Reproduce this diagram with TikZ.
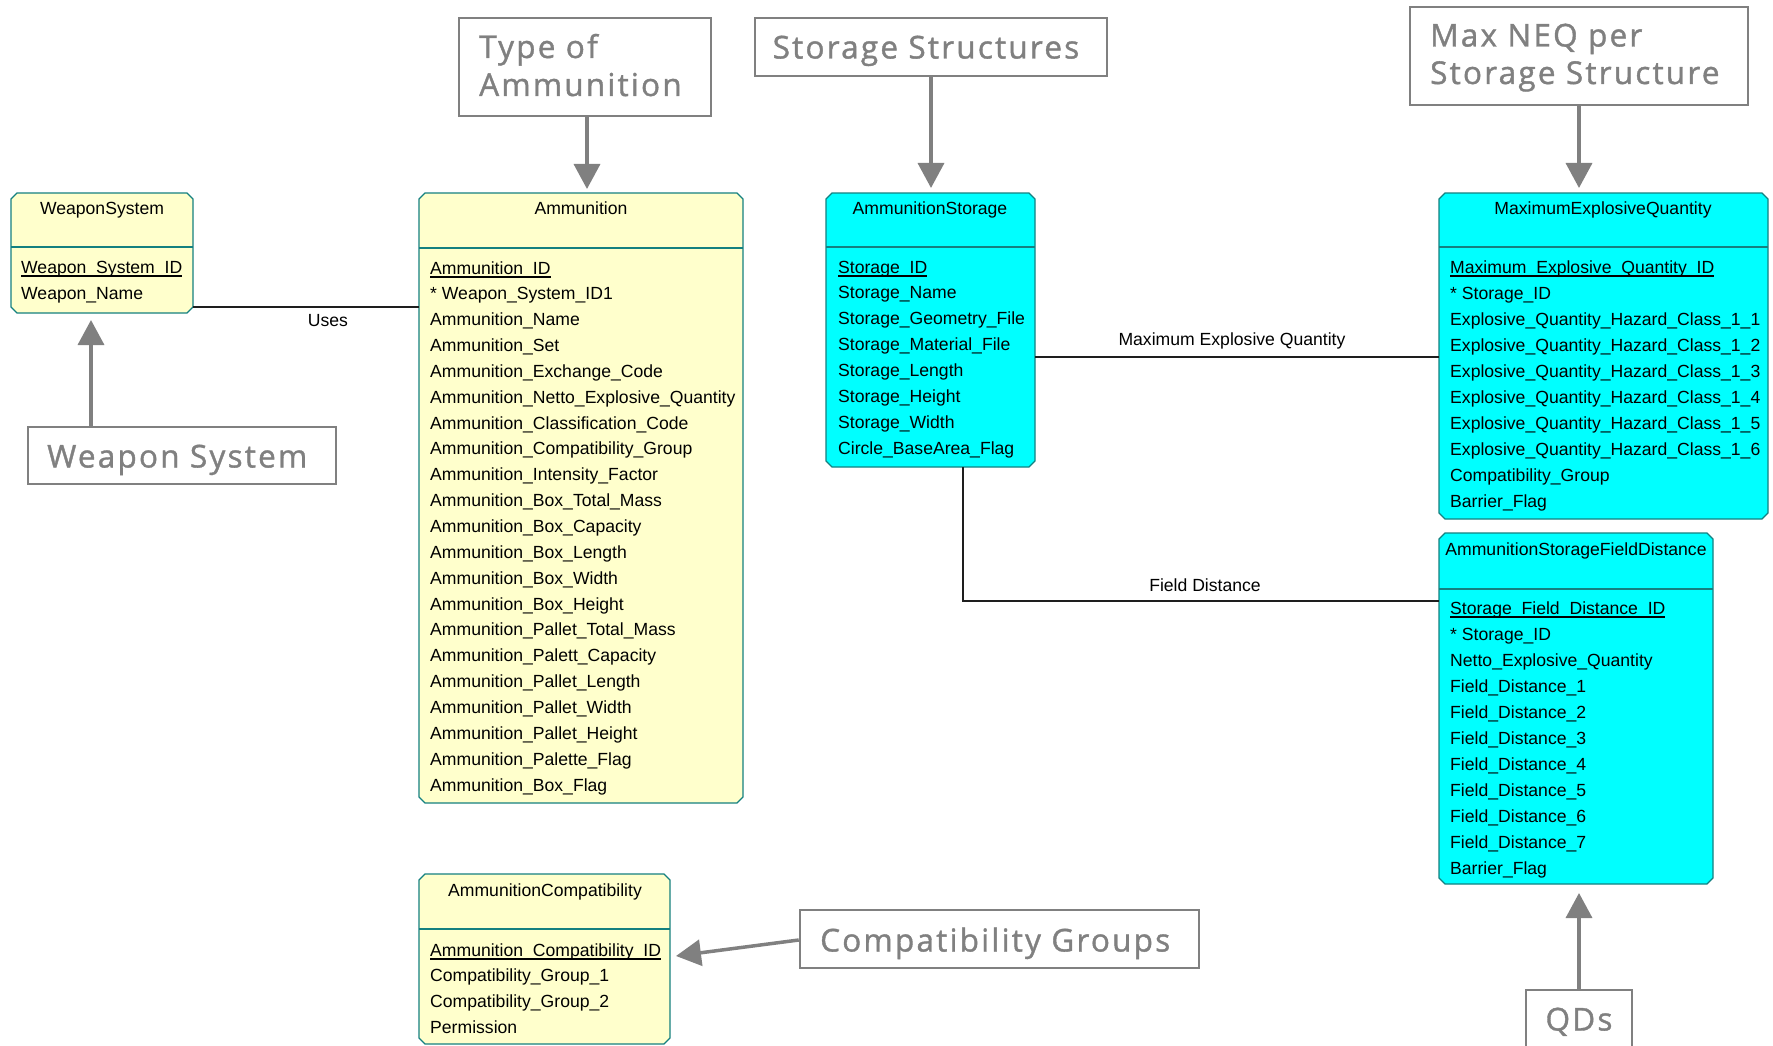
\documentclass[tikz,border=0pt]{standalone}
\usepackage{fontspec}
\setmainfont{Liberation Sans}
\newfontfamily\calloutfont[LetterSpace=7,FakeBold=1.2]{Open Sans}
\usetikzlibrary{arrows.meta}
\definecolor{entyellow}{RGB}{255,255,204}
\definecolor{entcyan}{RGB}{0,255,255}
\definecolor{entborder}{RGB}{20,128,128}
\definecolor{callgray}{RGB}{128,128,128}
\definecolor{linedark}{RGB}{30,30,30}
\newcommand\pkey[1]{\setbox0=\hbox{#1}\rlap{\rule[-0.21em]{\wd0}{0.07em}}\box0}
\newcommand\entbox[7]{%
  \node[entity, minimum width={#4-#2}, minimum height={#5-#3}] (#1) at ({(#2+#4)/2},{(#3+#5)/2}) {};
  \filldraw[entbody, fill=#7]
    ([xshift=6pt]#1.north west) -- ([xshift=-6pt]#1.north east) -- ([yshift=-6pt]#1.north east)
    -- ([yshift=6pt]#1.south east) -- ([xshift=-6pt]#1.south east) -- ([xshift=6pt]#1.south west)
    -- ([yshift=6pt]#1.south west) -- ([yshift=-6pt]#1.north west) -- cycle;
  \draw[entsep] (#1.west |- 0,#6) -- (#1.east |- 0,#6);}
\begin{document}
\begin{tikzpicture}[x=1pt,y=-1pt,
  entity/.style={rectangle, inner sep=0pt, outer sep=0pt},
  entbody/.style={draw=entborder, line width=1.3pt, line join=miter},
  entsep/.style={draw=entborder, line width=1.3pt},
  enttitle/.style={inner sep=0pt, anchor=base, font=\fontsize{17.6}{26}\selectfont},
  entitem/.style={inner sep=0pt, anchor=base west, font=\fontsize{17.6}{26}\selectfont},
  rel/.style={draw=linedark, line width=2pt},
  rellabel/.style={inner sep=0pt, anchor=base, font=\fontsize{17.6}{26}\selectfont},
  callbox/.style={rectangle, draw=callgray, line width=2.5pt, fill=white, inner sep=0pt},
  calltext/.style={inner sep=0pt, text=callgray, font=\calloutfont\fontsize{31.5}{38}\selectfont},
  callarrow/.style={draw=callgray, line width=3.5pt, -{Triangle[width=26pt,length=25pt]}}
]
\useasboundingbox (0,0) rectangle (1773,1046);
\fill[white] (0,0) rectangle (1773,1046);

% ---------- entities ----------
\entbox{ws}{11}{193}{193}{313}{247}{entyellow}
\node[enttitle] (ws-t) at (102,214) {WeaponSystem};
\foreach \t [count=\i] in {\pkey{Weapon\_System\_ID}, Weapon\_Name}
  \node[entitem] (ws-\i) at (21,{273+(\i-1)*26}) {\t};

\entbox{am}{419}{193}{743}{803}{248}{entyellow}
\node[enttitle] (am-t) at (581,214) {Ammunition};
\foreach \t [count=\i] in {\pkey{Ammunition\_ID}, * Weapon\_System\_ID1, Ammunition\_Name, Ammunition\_Set,
  Ammunition\_Exchange\_Code, Ammunition\_Netto\_Explosive\_Quantity, Ammunition\_Classification\_Code,
  Ammunition\_Compatibility\_Group, Ammunition\_Intensity\_Factor, Ammunition\_Box\_Total\_Mass,
  Ammunition\_Box\_Capacity, Ammunition\_Box\_Length, Ammunition\_Box\_Width, Ammunition\_Box\_Height,
  Ammunition\_Pallet\_Total\_Mass, Ammunition\_Palett\_Capacity, Ammunition\_Pallet\_Length,
  Ammunition\_Pallet\_Width, Ammunition\_Pallet\_Height, Ammunition\_Palette\_Flag, Ammunition\_Box\_Flag}
  \node[entitem] (am-\i) at (430,{274+(\i-1)*25.85}) {\t};

\entbox{as}{826}{193}{1035}{467}{247}{entcyan}
\node[enttitle] (as-t) at (930,214) {AmmunitionStorage};
\foreach \t [count=\i] in {\pkey{Storage\_ID}, Storage\_Name, Storage\_Geometry\_File, Storage\_Material\_File,
  Storage\_Length, Storage\_Height, Storage\_Width, Circle\_BaseArea\_Flag}
  \node[entitem] (as-\i) at (838,{273+(\i-1)*25.9}) {\t};

\entbox{meq}{1439}{193}{1768}{519}{247}{entcyan}
\node[enttitle] (meq-t) at (1603,214) {MaximumExplosiveQuantity};
\foreach \t [count=\i] in {\pkey{Maximum\_Explosive\_Quantity\_ID}, * Storage\_ID,
  Explosive\_Quantity\_Hazard\_Class\_1\_1, Explosive\_Quantity\_Hazard\_Class\_1\_2,
  Explosive\_Quantity\_Hazard\_Class\_1\_3, Explosive\_Quantity\_Hazard\_Class\_1\_4,
  Explosive\_Quantity\_Hazard\_Class\_1\_5, Explosive\_Quantity\_Hazard\_Class\_1\_6,
  Compatibility\_Group, Barrier\_Flag}
  \node[entitem] (meq-\i) at (1450,{273+(\i-1)*26.1}) {\t};

\entbox{asfd}{1439}{533}{1713}{884}{589}{entcyan}
\node[enttitle] (asfd-t) at (1576,555) {AmmunitionStorageFieldDistance};
\foreach \t [count=\i] in {\pkey{Storage\_Field\_Distance\_ID}, * Storage\_ID, Netto\_Explosive\_Quantity,
  Field\_Distance\_1, Field\_Distance\_2, Field\_Distance\_3, Field\_Distance\_4, Field\_Distance\_5,
  Field\_Distance\_6, Field\_Distance\_7, Barrier\_Flag}
  \node[entitem] (asfd-\i) at (1450,{614+(\i-1)*26}) {\t};

\entbox{ac}{419}{874}{670}{1044}{929}{entyellow}
\node[enttitle] (ac-t) at (545,896) {AmmunitionCompatibility};
\foreach \t [count=\i] in {\pkey{Ammunition\_Compatibility\_ID}, Compatibility\_Group\_1, Compatibility\_Group\_2, Permission}
  \node[entitem] (ac-\i) at (430,{956+(\i-1)*25.9}) {\t};

% ---------- relationships ----------
\draw[rel] (ws.east |- 0,307) -- (am.west |- 0,307);
\node[rellabel] (uses) at (328,326) {Uses};
\draw[rel] (as.east |- 0,357) -- (meq.west |- 0,357);
\node[rellabel] (meqlabel) at (1232,345) {Maximum Explosive Quantity};
\draw[rel] (as.south -| 963,0) |- (asfd.west |- 0,601);
\node[rellabel] (fdlabel) at (1205,591) {Field Distance};

% ---------- callouts ----------
\node[callbox, minimum width=308, minimum height=57] (wsc) at (182,455.5) {};
\node[calltext, anchor=base west] (wsc-t) at (47,467.5) {Weapon System};
\draw[callarrow] (wsc.north -| 91,0) -- (91,320);

\node[callbox, minimum width=252, minimum height=98] (tac) at (585,67) {};
\node[calltext, anchor=base west] (tac-t1) at (479,58) {Type of};
\node[calltext, anchor=base west] (tac-t2) at (479,96) {Ammunition};
\draw[callarrow] (tac.south -| 587,0) -- (587,189);

\node[callbox, minimum width=352, minimum height=58] (ssc) at (931,47) {};
\node[calltext, anchor=base] (ssc-t) at (926,58.5) {Storage Structures};
\draw[callarrow] (ssc.south -| 931,0) -- (931,188);

\node[callbox, minimum width=338, minimum height=98] (mnc) at (1579,56) {};
\node[calltext, anchor=base west] (mnc-t1) at (1430,46.5) {Max NEQ per};
\node[calltext, anchor=base west] (mnc-t2) at (1430,84) {Storage Structure};
\draw[callarrow] (mnc.south -| 1579,0) -- (1579,188);

\node[callbox, minimum width=399, minimum height=58] (cgc) at (999.5,939) {};
\node[calltext, anchor=base west] (cgc-t) at (820,951.5) {Compatibility Groups};
\draw[callarrow] (cgc.west |- 0,940) -- (676,956);

\node[callbox, minimum width=106, minimum height=80] (qdc) at (1579,1030) {};
\node[calltext, anchor=base] (qdc-t) at (1579,1030.5) {QDs};
\draw[callarrow] (qdc.north -| 1579,0) -- (1579,893);
\end{tikzpicture}
\end{document}
